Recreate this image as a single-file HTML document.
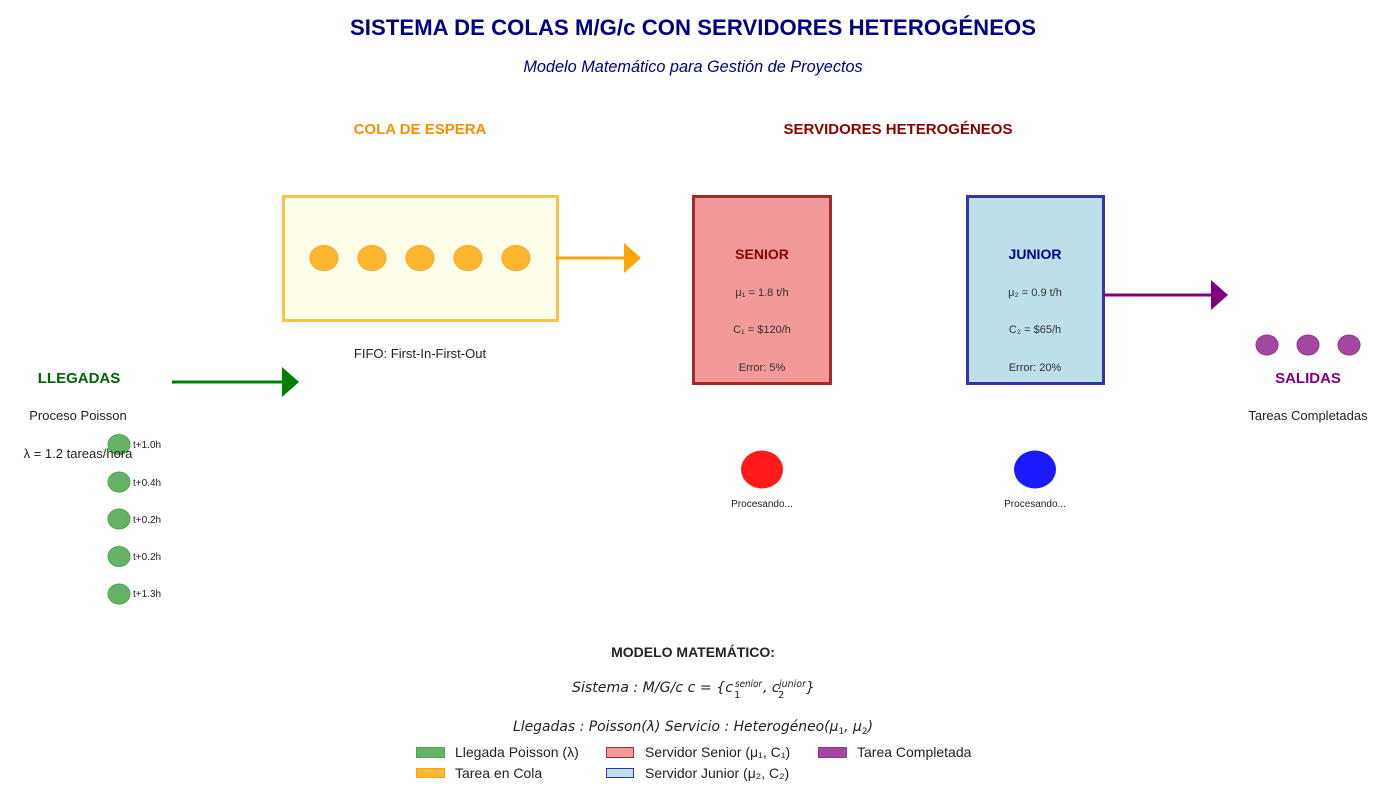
<!DOCTYPE html>
<html><head><meta charset="utf-8"><style>
html,body{margin:0;padding:0;background:#fff;}
svg{display:block;font-family:"Liberation Sans",sans-serif;}
.it{font-family:"DejaVu Sans",sans-serif;font-style:italic;}
</style></head><body>
<svg width="1386" height="796" viewBox="0 0 1386 796" xmlns="http://www.w3.org/2000/svg">
<text x="693" y="35" text-anchor="middle" font-size="22.1" font-weight="bold" fill="#000080" textLength="686">SISTEMA DE COLAS M/G/c CON SERVIDORES HETEROGÉNEOS</text>
<text x="693" y="72" text-anchor="middle" font-size="16.3" font-style="italic" fill="#000080">Modelo Matemático para Gestión de Proyectos</text>

<text x="420" y="134" text-anchor="middle" font-size="15" font-weight="bold" fill="#FF8C00">COLA DE ESPERA</text>
<text x="898" y="134" text-anchor="middle" font-size="15" font-weight="bold" fill="#8B0000">SERVIDORES HETEROGÉNEOS</text>

<!-- queue -->
<rect x="283.5" y="196.5" width="274" height="124" fill="#FFFEE8" stroke="#FFC04D" stroke-width="3"/>
<g fill="#FFB732" stroke="#F5A623" stroke-width="1">
<ellipse cx="324" cy="258" rx="14" ry="12.5"/><ellipse cx="372" cy="258" rx="14" ry="12.5"/>
<ellipse cx="420" cy="258" rx="14" ry="12.5"/><ellipse cx="468" cy="258" rx="14" ry="12.5"/>
<ellipse cx="516" cy="258" rx="14" ry="12.5"/></g>
<line x1="556" y1="258" x2="626" y2="258" stroke="#FFA500" stroke-width="3"/>
<polygon points="624,243 641,258 624,273" fill="#FFA500"/>
<text x="420" y="358" text-anchor="middle" font-size="13" fill="#222">FIFO: First-In-First-Out</text>

<!-- senior -->
<rect x="693.5" y="196.5" width="137" height="187" fill="#F29A9A" stroke="#A52A2A" stroke-width="3"/>
<text x="762" y="259" text-anchor="middle" font-size="14" font-weight="bold" fill="#8B0000">SENIOR</text>
<text x="762" y="296" text-anchor="middle" font-size="11" fill="#333">μ₁ = 1.8 t/h</text>
<text x="762" y="333" text-anchor="middle" font-size="11" fill="#333">C₁ = $120/h</text>
<text x="762" y="371" text-anchor="middle" font-size="11" fill="#333">Error: 5%</text>
<ellipse cx="762" cy="469.5" rx="21" ry="19" fill="#FF1A1A"/>
<text x="762" y="507" text-anchor="middle" font-size="10" fill="#222">Procesando...</text>

<!-- junior -->
<rect x="967.5" y="196.5" width="136" height="187" fill="#BDDFEA" stroke="#3333AA" stroke-width="3"/>
<text x="1035" y="259" text-anchor="middle" font-size="14" font-weight="bold" fill="#00008B">JUNIOR</text>
<text x="1035" y="296" text-anchor="middle" font-size="11" fill="#333">μ₂ = 0.9 t/h</text>
<text x="1035" y="333" text-anchor="middle" font-size="11" fill="#333">C₂ = $65/h</text>
<text x="1035" y="371" text-anchor="middle" font-size="11" fill="#333">Error: 20%</text>
<ellipse cx="1035" cy="469.5" rx="21" ry="19" fill="#1A1AFF"/>
<text x="1035" y="507" text-anchor="middle" font-size="10" fill="#222">Procesando...</text>
<line x1="1103" y1="295" x2="1213" y2="295" stroke="#800080" stroke-width="3"/>
<polygon points="1211,280 1228,295 1211,310" fill="#800080"/>

<!-- outputs -->
<g fill="#A347A3" stroke="#8B3A8B" stroke-width="1">
<ellipse cx="1267" cy="345" rx="11" ry="10"/><ellipse cx="1308" cy="345" rx="11" ry="10"/><ellipse cx="1349" cy="345" rx="11" ry="10"/></g>
<text x="1308" y="383" text-anchor="middle" font-size="15" font-weight="bold" fill="#800080">SALIDAS</text>
<text x="1308" y="420" text-anchor="middle" font-size="13" fill="#222">Tareas Completadas</text>

<!-- arrivals -->
<text x="79" y="383" text-anchor="middle" font-size="15" font-weight="bold" fill="#006400">LLEGADAS</text>
<line x1="172" y1="382" x2="284" y2="382" stroke="#008000" stroke-width="3"/>
<polygon points="282,367 299,382 282,397" fill="#008000"/>
<text x="78" y="420" text-anchor="middle" font-size="13" fill="#222">Proceso Poisson</text>
<g fill="#66B266" stroke="#4CA64C" stroke-width="1">
<ellipse cx="119" cy="444.5" rx="11" ry="10"/><ellipse cx="119" cy="482" rx="11" ry="10"/>
<ellipse cx="119" cy="519" rx="11" ry="10"/><ellipse cx="119" cy="556.5" rx="11" ry="10"/>
<ellipse cx="119" cy="594" rx="11" ry="10"/></g>
<text x="78" y="458" text-anchor="middle" font-size="13" fill="#222">λ = 1.2 tareas/hora</text>
<g font-size="10" fill="#222">
<text x="133" y="448">t+1.0h</text><text x="133" y="486">t+0.4h</text><text x="133" y="523">t+0.2h</text>
<text x="133" y="560">t+0.2h</text><text x="133" y="597">t+1.3h</text></g>

<!-- math -->
<text x="693" y="657" text-anchor="middle" font-size="14" font-weight="bold" fill="#222">MODELO MATEMÁTICO:</text>
<g class="it" fill="#222">
<text x="572" y="692" font-size="14" textLength="161" lengthAdjust="spacingAndGlyphs">Sistema : M/G/c   c = {c</text>
<text x="735" y="687" font-size="9.5" textLength="27" lengthAdjust="spacingAndGlyphs">senior</text>
<text x="734" y="698" font-size="10" font-style="normal">1</text>
<text x="763" y="692" font-size="14">, c</text>
<text x="779" y="687" font-size="9.5" textLength="27" lengthAdjust="spacingAndGlyphs">junior</text>
<text x="778" y="698" font-size="10" font-style="normal">2</text>
<text x="806" y="692" font-size="14">}</text>
<text x="513" y="731" font-size="14" textLength="360" lengthAdjust="spacingAndGlyphs">Llegadas : Poisson(λ)   Servicio : Heterogéneo(μ<tspan font-size="9" dy="3" font-style="normal">1</tspan><tspan dy="-3">, μ</tspan><tspan font-size="9" dy="3" font-style="normal">2</tspan><tspan dy="-3">)</tspan></text>
</g>

<!-- legend -->
<rect x="416.5" y="747.5" width="28" height="10" fill="#66B266" stroke="#4CA64C"/>
<text x="455" y="757" font-size="14" fill="#222">Llegada Poisson (λ)</text>
<rect x="416.5" y="768.5" width="28" height="9" fill="#FFB732" stroke="#FFA500"/>
<text x="455" y="778" font-size="14" fill="#222">Tarea en Cola</text>
<rect x="606.5" y="747.5" width="27" height="10" fill="#F29A9A" stroke="#A52A2A"/>
<text x="645" y="757" font-size="14" fill="#222">Servidor Senior (μ₁, C₁)</text>
<rect x="606.5" y="768.5" width="27" height="9" fill="#BDDFEA" stroke="#3333AA"/>
<text x="645" y="778" font-size="14" fill="#222">Servidor Junior (μ₂, C₂)</text>
<rect x="818.5" y="747.5" width="28" height="10" fill="#A347A3" stroke="#8B3A8B"/>
<text x="857" y="757" font-size="14" fill="#222">Tarea Completada</text>
</svg>
</body></html>
